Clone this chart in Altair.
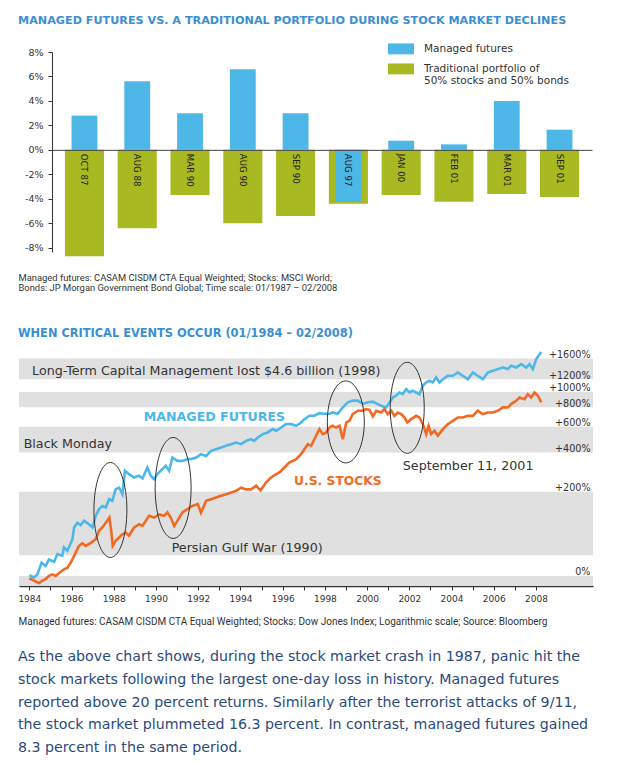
import altair as alt
import pandas as pd

# ---------------- data: monthly declines (bar chart) ----------------
months = ["OCT 87", "AUG 88", "MAR 90", "AUG 90", "SEP 90",
          "AUG 97", "JAN 00", "FEB 01", "MAR 01", "SEP 01"]
managed = [2.8, 5.6, 3.0, 6.6, 3.0, -4.25, 0.75, 0.45, 4.0, 1.65]
traditional = [-8.7, -6.4, -3.7, -6.0, -5.4, -4.4, -3.7, -4.25, -3.6, -3.85]
bar_ticks = [-8, -6, -4, -2, 0, 2, 4, 6, 8]

# ---------------- data: cumulative returns (%) ----------------
mf_year = [1984.00, 1984.22, 1984.38, 1984.58, 1984.77, 1984.93, 1985.17, 1985.33, 1985.56, 1985.64,
           1985.80, 1986.04, 1986.12, 1986.27, 1986.43, 1986.59, 1986.83, 1986.99, 1987.14, 1987.30,
           1987.46, 1987.62, 1987.78, 1987.93, 1988.09, 1988.25, 1988.41, 1988.53, 1988.72, 1988.96,
           1989.20, 1989.36, 1989.59, 1989.75, 1989.91, 1990.07, 1990.30, 1990.46, 1990.62, 1990.78,
           1991.01, 1991.25, 1991.49, 1991.70, 1991.90, 1992.13, 1992.37, 1992.61, 1992.84, 1993.08,
           1993.32, 1993.56, 1993.79, 1994.03, 1994.27, 1994.50, 1994.66, 1994.82, 1995.06, 1995.29,
           1995.53, 1995.69, 1995.93, 1996.16, 1996.40, 1996.64, 1996.87, 1997.03, 1997.27, 1997.50,
           1997.74, 1997.98, 1998.22, 1998.37, 1998.61, 1998.85, 1999.08, 1999.32, 1999.56, 1999.80,
           2000.03, 2000.27, 2000.50, 2000.66, 2000.90, 2001.06, 2001.22, 2001.37, 2001.53, 2001.69,
           2001.85, 2002.01, 2002.16, 2002.32, 2002.48, 2002.64, 2002.80, 2002.95, 2003.11, 2003.27,
           2003.43, 2003.59, 2003.82, 2004.06, 2004.30, 2004.53, 2004.77, 2005.01, 2005.24, 2005.48,
           2005.72, 2005.96, 2006.19, 2006.43, 2006.67, 2006.82, 2007.06, 2007.30, 2007.54, 2007.69,
           2007.85, 2008.01, 2008.25]
mf_ret = [1, -2, 2, 19, 14, 24, 20, 33, 30, 45,
          39, 61, 88, 100, 94, 105, 96, 88, 119, 139,
          149, 144, 172, 166, 210, 216, 190, 294, 277, 261,
          269, 256, 311, 269, 253, 277, 302, 320, 294, 368,
          348, 348, 358, 360, 368, 389, 378, 411, 422, 434,
          445, 457, 469, 457, 482, 494, 482, 508, 535, 549,
          578, 563, 592, 623, 623, 608, 639, 672, 707, 707,
          735, 728, 728, 742, 728, 801, 862, 883, 883, 842,
          862, 870, 839, 819, 800, 860, 924, 947, 993, 969,
          1042, 993, 1017, 993, 969, 1093, 1146, 1173, 1146, 1230,
          1146, 1200, 1259, 1259, 1319, 1259, 1200, 1319, 1259, 1200,
          1319, 1349, 1382, 1414, 1382, 1449, 1414, 1482, 1414, 1482,
          1382, 1589, 1750]

us_year = [1984.00, 1984.22, 1984.46, 1984.62, 1984.77, 1984.93, 1985.09, 1985.25, 1985.41, 1985.64,
           1985.80, 1985.96, 1986.12, 1986.35, 1986.51, 1986.67, 1986.91, 1987.14, 1987.30, 1987.46,
           1987.62, 1987.79, 1987.88, 1987.95, 1988.09, 1988.25, 1988.41, 1988.56, 1988.72, 1988.96,
           1989.20, 1989.36, 1989.67, 1989.91, 1990.15, 1990.38, 1990.54, 1990.70, 1990.86, 1991.01,
           1991.25, 1991.49, 1991.72, 1991.98, 1992.13, 1992.37, 1992.61, 1992.84, 1993.08, 1993.32,
           1993.56, 1993.79, 1994.03, 1994.27, 1994.50, 1994.74, 1994.95, 1995.21, 1995.45, 1995.69,
           1995.85, 1996.08, 1996.32, 1996.48, 1996.64, 1996.87, 1997.03, 1997.19, 1997.35, 1997.50,
           1997.66, 1997.74, 1997.90, 1998.06, 1998.22, 1998.37, 1998.53, 1998.69, 1998.85, 1999.01,
           1999.16, 1999.32, 1999.56, 1999.80, 1999.95, 2000.11, 2000.27, 2000.43, 2000.66, 2000.82,
           2000.98, 2001.14, 2001.30, 2001.45, 2001.61, 2001.77, 2001.90, 2002.09, 2002.32, 2002.48,
           2002.64, 2002.80, 2002.91, 2003.03, 2003.19, 2003.35, 2003.59, 2003.82, 2004.06, 2004.30,
           2004.53, 2004.77, 2005.01, 2005.24, 2005.48, 2005.72, 2005.96, 2006.19, 2006.43, 2006.67,
           2006.82, 2007.06, 2007.22, 2007.46, 2007.61, 2007.77, 2007.93, 2008.09, 2008.25]
us_ret = [-3, -6, -9, -6, -4, 0, 2, 0, 4, 9,
          11, 19, 30, 48, 53, 48, 54, 61, 80, 88,
          100, 114, 80, 48, 58, 65, 72, 76, 69, 88,
          96, 92, 119, 114, 123, 119, 129, 114, 92, 105,
          129, 139, 149, 155, 128, 166, 172, 178, 184, 190,
          197, 203, 216, 209, 209, 224, 205, 238, 261, 277,
          285, 311, 339, 348, 358, 389, 422, 457, 445, 494,
          549, 578, 535, 549, 592, 608, 592, 608, 494, 639,
          655, 724, 761, 761, 780, 770, 700, 761, 742, 780,
          724, 761, 706, 742, 724, 689, 639, 672, 706, 689,
          623, 535, 608, 535, 563, 521, 578, 623, 655, 689,
          689, 706, 706, 761, 724, 742, 742, 761, 800, 800,
          839, 880, 924, 902, 969, 924, 993, 947, 860]

band_lo = [1200, 800, 400, 31, -12.3]
band_hi = [1600, 1000, 600, 200, 0]
ret_ticks = [0, 200, 400, 600, 800, 1000, 1200, 1600]
year_ticks = list(range(1984, 2009))

# annotations (data coordinates)
ann_text = ["Long-Term Capital Management lost $4.6 billion (1998)", "Black Monday",
            "Persian Gulf War (1990)", "September 11, 2001"]
ann_year = [1984.13, 1983.73, 1990.74, 2001.69]
ann_ret = [1351, 457, 44.8, 320]
ser_text = ["MANAGED FUTURES", "U.S. STOCKS"]
ser_year = [1989.42, 1996.54]
ser_ret = [690, 245]
ell_year = [1987.84, 1990.81, 1998.99, 2001.90]
ell_ret = [136.3, 214.8, 644.7, 795.0]
ell_w = [33, 36, 37, 34]
ell_h = [95, 101, 82, 91]

paragraph = [
    "As the above chart shows, during the stock market crash in 1987, panic hit the",
    "stock markets following the largest one-day loss in history. Managed futures",
    "reported above 20 percent returns. Similarly after the terrorist attacks of 9/11,",
    "the stock market plummeted 16.3 percent. In contrast, managed futures gained",
    "8.3 percent in the same period.",
]
note_a = ["Managed futures: CASAM CISDM CTA Equal Weighted; Stocks: MSCI World;",
          "Bonds: JP Morgan Government Bond Global; Time scale: 01/1987 \u2013 02/2008"]
note_b = ("Managed futures: CASAM CISDM CTA Equal Weighted; Stocks: Dow Jones Index; "
          "Logarithmic scale; Source: Bloomberg")

FONT = "DejaVu Sans"
TITLE_BLUE = "#3a8fd4"
GREY_TXT = "#333333"
MF_BLUE = "#4cb8ea"
US_ORANGE = "#f26a22"
BAR_BLUE = "#4db8e8"
BAR_GREEN = "#a9b922"

# ================= panel A: bars =================
A_W, A_H = 573, 200
A_LEFT = 33           # bar area starts 33px right of the shared left edge
A_DOMAIN = [-8.35, 8]
zero_px = A_H * A_DOMAIN[1] / (A_DOMAIN[1] - A_DOMAIN[0])

S_MF = "Managed futures"
S_TR = "Traditional portfolio"
bars_df = pd.DataFrame({
    "month": months * 2,
    "series": [S_MF] * len(months) + [S_TR] * len(months),
    "value": managed + traditional,
})
xA = alt.X("month:N", sort=months,
           scale=alt.Scale(range=[A_LEFT, A_W], paddingInner=0, paddingOuter=0.115),
           axis=alt.Axis(orient="bottom", offset=-(A_H - zero_px), labels=False, ticks=False,
                         domain=True, domainColor="#444444", domainWidth=1, grid=False, zindex=1,
                         title=note_a, titleX=-1, titleY=124, titleAlign="left",
                         titleBaseline="top", titleFont="Roboto", titleFontSize=9.4,
                         titleFontWeight="normal", titleColor=GREY_TXT, titleLineHeight=10))
yA_axis = alt.Axis(values=bar_ticks, labelExpr="datum.value + '%'", title=None, grid=False,
                   offset=-A_LEFT, tickSize=4, tickColor=GREY_TXT, domainColor=GREY_TXT,
                   labelFont=FONT, labelFontSize=9.5, labelColor=GREY_TXT,
                   labelPadding=5, labelOverlap=False, labelFlush=False, labelBound=False)
yA_scale = alt.Scale(domain=A_DOMAIN, nice=False, zero=False)

SWATCH = "M-1,-0.42H1V0.42H-1Z"
legend_common = dict(title=None, orient="none", legendX=369, direction="vertical",
                     symbolType=SWATCH, symbolSize=676, symbolStrokeWidth=0, symbolOpacity=1,
                     labelFont=FONT, labelFontSize=10.5, labelColor=GREY_TXT,
                     labelOffset=10, padding=0, labelLimit=300)
color_mf = alt.Color("series:N", scale=alt.Scale(domain=[S_MF], range=[BAR_BLUE]),
                     legend=alt.Legend(legendY=-16.1, **legend_common))
fill_tr = alt.Fill("series:N", scale=alt.Scale(domain=[S_TR], range=[BAR_GREEN]),
                   legend=alt.Legend(
                       legendY=3.9,
                       labelExpr="['Traditional portfolio of', '50% stocks and 50% bonds']",
                       **legend_common))

green = alt.Chart(bars_df).transform_filter(alt.datum.series == S_TR).mark_bar(
    width=alt.RelativeBandSize(0.74)).encode(
    x=xA, y=alt.Y("value:Q", scale=yA_scale, axis=yA_axis),
    y2=alt.Y2(datum=0), fill=fill_tr)
blue = alt.Chart(bars_df).transform_filter(alt.datum.series == S_MF).mark_bar(
    width=alt.RelativeBandSize(0.49)).encode(
    x=xA, y=alt.Y("value:Q", scale=yA_scale, axis=yA_axis), y2=alt.Y2(datum=0),
    color=color_mf)
cat_labels = alt.Chart(pd.DataFrame({"month": months})).mark_text(
    angle=90, align="left", baseline="middle", dx=4, font=FONT, fontSize=8.6,
    color="#222222").encode(x=xA, y=alt.Y(datum=0, scale=yA_scale, axis=yA_axis),
                            text="month:N")

panelA = alt.layer(green, blue, cat_labels).resolve_scale(color="independent").properties(
    width=A_W, height=A_H,
    title=alt.TitleParams(
        "MANAGED FUTURES VS. A TRADITIONAL PORTFOLIO DURING STOCK MARKET DECLINES",
        anchor="start", frame="group", dx=-1, offset=10, font=FONT, fontSize=11.2,
        fontWeight="bold", color=TITLE_BLUE))

# ================= panel B: lines (log scale) =================
mf_df = pd.DataFrame({"year": mf_year, "ret": mf_ret})
us_df = pd.DataFrame({"year": us_year, "ret": us_ret})
bands_df = pd.DataFrame({"lo": band_lo, "hi": band_hi})
ann_df = pd.DataFrame({"text": ann_text, "year": ann_year, "ret": ann_ret})
ser_df = pd.DataFrame({"text": ser_text, "year": ser_year, "ret": ser_ret})
ell_ids = ["e%d" % i for i in range(len(ell_year))]
ell_df = pd.DataFrame({"id": ell_ids, "year": ell_year, "ret": ell_ret,
                       "size": [h * h for h in ell_h]})
ell_paths = ["M0,-1A{a:.3f},1,0,1,1,0,1A{a:.3f},1,0,1,1,0,-1Z".format(a=w / h)
             for w, h in zip(ell_w, ell_h)]

xB_scale = alt.Scale(domain=[1983.51, 2010.7], nice=False, zero=False)
xB_axis = alt.Axis(values=year_ticks, format="d",
                   labelExpr="datum.value % 2 == 0 ? datum.label : ''",
                   tickSize=4, tickColor=GREY_TXT, domainColor=GREY_TXT, domainWidth=1.5,
                   labelFont=FONT, labelFontSize=9, labelColor=GREY_TXT,
                   labelPadding=4, grid=False, labelFlush=False, labelOverlap=False,
                   title=note_b, titleX=-1, titleY=30, titleAlign="left", titleBaseline="top",
                   titleFont="Roboto", titleFontSize=10, titleFontWeight="normal",
                   titleColor=GREY_TXT)
yB_scale = alt.Scale(type="log", domain=[0.877, 20.56], nice=False)
yB_axis = alt.Axis(orient="right", values=[1 + v / 100 for v in ret_ticks],
                   labelExpr=("datum.value < 1.5 ? '0%' : '+' + "
                              "format(round((datum.value - 1) * 100), 'd') + '%'"),
                   labelAlign="right", labelPadding=-3, ticks=False, tickSize=0,
                   domain=False, grid=False, labelFont=FONT, labelFontSize=9.6,
                   labelColor=GREY_TXT, labelBaseline="alphabetic", labelOffset=-1,
                   labelFlush=False, labelOverlap=False, labelBound=False, title=None, zindex=2)


def xb(field):
    return alt.X(field, scale=xB_scale, axis=xB_axis)


def yb(field):
    return alt.Y(field, scale=yB_scale, axis=yB_axis)


bands = alt.Chart(bands_df).transform_calculate(
    ylo="1 + datum.lo / 100", yhi="1 + datum.hi / 100").mark_rect(color="#e0e0e0").encode(
    y=yb("ylo:Q"), y2="yhi:Q")
line_mf = alt.Chart(mf_df).transform_calculate(idx="1 + datum.ret / 100").mark_line(
    strokeWidth=2.6, color=MF_BLUE).encode(x=xb("year:Q"), y=yb("idx:Q"))
line_us = alt.Chart(us_df).transform_calculate(idx="1 + datum.ret / 100").mark_line(
    strokeWidth=2.6, color=US_ORANGE).encode(x=xb("year:Q"), y=yb("idx:Q"))
ellipses = alt.Chart(ell_df).transform_calculate(idx="1 + datum.ret / 100").mark_point(
    filled=False, color="#333333", strokeWidth=1, opacity=1).encode(
    x=xb("year:Q"), y=yb("idx:Q"),
    shape=alt.Shape("id:N", scale=alt.Scale(domain=ell_ids, range=ell_paths), legend=None),
    size=alt.Size("size:Q", scale=None))
ann = alt.Chart(ann_df).transform_calculate(idx="1 + datum.ret / 100").mark_text(
    align="left", baseline="middle", font=FONT, fontSize=12.7, color=GREY_TXT).encode(
    x=xb("year:Q"), y=yb("idx:Q"), text="text:N")
lab_mf = alt.Chart(ser_df).transform_filter(alt.datum.text == ser_text[0]).transform_calculate(
    idx="1 + datum.ret / 100").mark_text(
    align="left", baseline="middle", font=FONT, fontSize=12.6, fontWeight="bold",
    color=MF_BLUE).encode(x=xb("year:Q"), y=yb("idx:Q"), text="text:N")
lab_us = alt.Chart(ser_df).transform_filter(alt.datum.text == ser_text[1]).transform_calculate(
    idx="1 + datum.ret / 100").mark_text(
    align="left", baseline="middle", font=FONT, fontSize=12.3, fontWeight="bold",
    color=US_ORANGE).encode(x=xb("year:Q"), y=yb("idx:Q"), text="text:N")

panelB = alt.layer(bands, line_mf, line_us, ellipses, ann, lab_mf, lab_us).properties(
    width=574, height=242,
    title=alt.TitleParams(
        "WHEN CRITICAL EVENTS OCCUR (01/1984 \u2013 02/2008)",
        anchor="start", frame="group", dx=-1, offset=5, font=FONT, fontSize=11.4,
        fontWeight="bold", color=TITLE_BLUE))

# ================= panel C: paragraph =================
para_df = pd.DataFrame({"line": list(range(len(paragraph))), "text": paragraph})
panelC = alt.Chart(para_df).mark_text(
    align="left", baseline="middle", font=FONT, fontSize=14.2, color="#2b4a7c").encode(
    y=alt.Y("line:O", axis=None, scale=alt.Scale(paddingInner=0, paddingOuter=0)),
    x=alt.value(-1), text="text:N").properties(width=573, height=113)

inner = alt.concat(panelA, panelB, columns=1, spacing=34)
chart = alt.concat(inner, panelC, columns=1, spacing=18).properties(
    padding={"left": 9, "top": 6, "right": 0, "bottom": 0},
    background="white",
).configure_view(stroke="transparent")

chart.save("out.html", embed_options={"renderer": "svg", "actions": False})
